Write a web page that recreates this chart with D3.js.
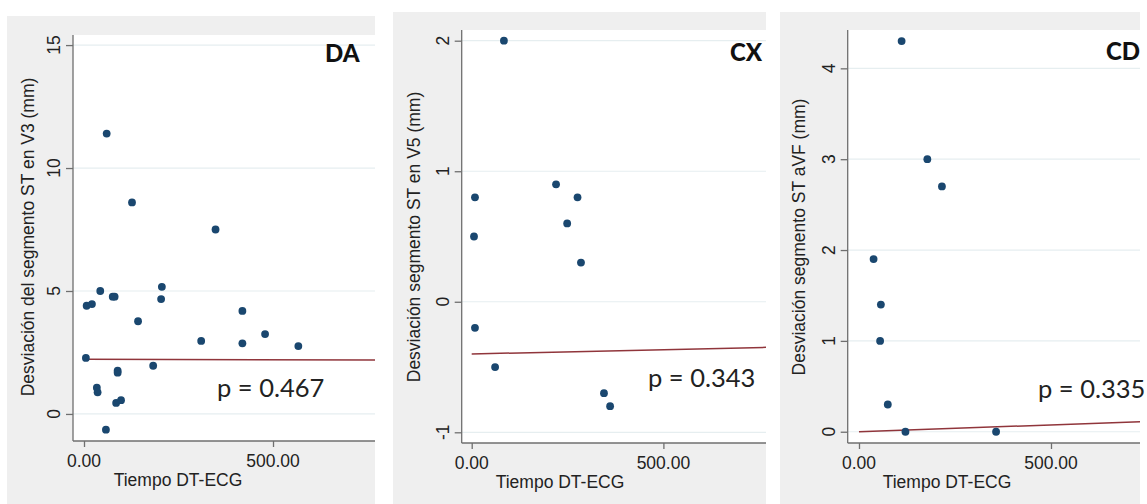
<!DOCTYPE html>
<html>
<head>
<meta charset="utf-8">
<script src="https://cdn.jsdelivr.net/npm/d3@7"></script>
<style>
  body { margin: 0; background: #fff; }
  svg { display: block; }
  .tick-label { font-family: "Liberation Sans", Arial, sans-serif; font-size: 17.5px; fill: #222; }
  .axis-title { font-family: "Liberation Sans", Arial, sans-serif; font-size: 17.5px; fill: #222; }
  .tag { font-family: Lato, "Open Sans", sans-serif; font-weight: 900; font-size: 24px; fill: #111; }
  .pval { font-family: Lato, "Open Sans", sans-serif; font-size: 25.5px; fill: #222; }
</style>
</head>
<body>
<script>
// data
var daX = [7, 21, 43, 60, 76, 81, 127, 143, 206, 204, 348, 419, 310, 419, 479, 567, 5, 183, 89, 89, 34, 36, 85, 98, 58];
var daY = [4.4, 4.47, 5.0, 11.4, 4.77, 4.77, 8.6, 3.77, 5.17, 4.67, 7.5, 4.19, 2.97, 2.87, 3.25, 2.76, 2.28, 1.96, 1.76, 1.68, 1.07, 0.88, 0.45, 0.56, -0.64];

var cxX = [84, 8.5, 6, 220, 276, 249, 285, 8.5, 61, 345, 361];
var cxY = [2.0, 0.8, 0.5, 0.9, 0.8, 0.6, 0.3, -0.2, -0.5, -0.7, -0.8];

var cdX = [111, 769, 178, 216, 38, 57, 55, 75, 121, 357];
var cdY = [4.3, 3.9, 3.0, 2.7, 1.9, 1.4, 1.0, 0.3, 0.0, 0.0];

// linear fit lines (start x, intercept, slope)
var fitStart = [5, 0, 0];
var fitIntercept = [2.224, -0.40, 0.0];
var fitSlope = [-0.000038, 0.000066, 0.00015];

var tags = ["DA", "CX", "CD"];
var pLabels = ["p = 0.467", "p = 0.343", "p = 0.335"];
var yTitles = ["Desviación del segmento ST en V3 (mm)", "Desviación segmento ST en V5 (mm)", "Desviación segmento ST aVF (mm)"];
var xTitle = "Tiempo DT-ECG";
var yTickSets = [[0, 5, 10, 15], [-1, 0, 1, 2], [0, 1, 2, 3, 4]];
var xTicks = [0, 500];

// layout of each panel (pixels)
var panels = [
    { bg: [7, 16, 375, 504], left: 73, right: 375, top: 35, bottom: 441, xDom: [-29.1, 769.8], yDom: [-1.10, 15.41],
      tagX: 325, tagY: 62, pX: 217, pY: 397, yTitleX: 34, xTitleX: 178 },
    { bg: [393, 12, 766, 504], left: 461.7, right: 766, top: 30, bottom: 443, xDom: [-26.1, 767.6], yDom: [-1.082, 2.082],
      tagX: 730, tagY: 61, pX: 648, pY: 387, yTitleX: 420, xTitleX: 560 },
    { bg: [780, 12, 1140, 504], left: 847.7, right: 1140, top: 30, bottom: 443, xDom: [-29.4, 731.8], yDom: [-0.124, 4.422],
      tagX: 1106, tagY: 60, pX: 1038, pY: 398, yTitleX: 805, xTitleX: 947 }
];

var seriesX = [daX, cxX, cdX];
var seriesY = [daY, cxY, cdY];

var svg = d3.select("body").append("svg")
    .attr("width", 1147)
    .attr("height", 504);

var fmt = d3.format(".2f");

panels.forEach(function (p, i) {
    var x = d3.scaleLinear().domain(p.xDom).range([p.left, p.right]);
    var y = d3.scaleLinear().domain(p.yDom).range([p.bottom, p.top]);

    var g = svg.append("g");

    // gray graph region
    g.append("rect")
        .attr("x", p.bg[0]).attr("y", p.bg[1])
        .attr("width", p.bg[2] - p.bg[0]).attr("height", p.bg[3] - p.bg[1])
        .attr("fill", "#efefef");

    // white plot region
    g.append("rect")
        .attr("x", p.left).attr("y", p.top)
        .attr("width", p.right - p.left).attr("height", p.bottom - p.top)
        .attr("fill", "#fff");

    g.append("clipPath").attr("id", "clip" + i)
        .append("rect")
        .attr("x", p.left).attr("y", p.top)
        .attr("width", p.right - p.left).attr("height", p.bottom - p.top);

    // grid lines
    g.selectAll(".grid")
        .data(yTickSets[i])
        .enter().append("line")
        .attr("x1", p.left).attr("x2", p.right)
        .attr("y1", function (d) { return y(d); })
        .attr("y2", function (d) { return y(d); })
        .attr("stroke", "#e6eef0")
        .attr("stroke-width", 1.2);

    // Add the Y Axis
    var yAxis = g.append("g")
        .attr("transform", "translate(" + p.left + ",0)")
        .call(d3.axisLeft(y).tickValues(yTickSets[i]).tickSize(7).tickSizeOuter(0).tickFormat(""));
    yAxis.select(".domain").attr("d", "M0," + p.top + "V" + p.bottom);

    // Add the X Axis
    var xAxis = g.append("g")
        .attr("transform", "translate(0," + p.bottom + ")")
        .call(d3.axisBottom(x).tickValues(xTicks).tickSize(6).tickSizeOuter(0).tickFormat(""));
    xAxis.select(".domain").attr("d", "M" + p.left + ",0H" + p.right);

    g.selectAll(".domain, .tick line").attr("stroke", "#6f6f6f").attr("stroke-width", 1.3);

    // rotated y tick labels
    g.selectAll(".ylab")
        .data(yTickSets[i])
        .enter().append("text")
        .attr("class", "tick-label")
        .attr("text-anchor", "middle")
        .attr("transform", function (d) { return "translate(" + (p.left - 13) + "," + y(d) + ") rotate(-90)"; })
        .text(function (d) { return d; });

    // x tick labels
    g.selectAll(".xlab")
        .data(xTicks)
        .enter().append("text")
        .attr("class", "tick-label")
        .attr("text-anchor", "middle")
        .attr("x", function (d) { return x(d); })
        .attr("y", p.bottom + 26)
        .text(function (d) { return fmt(d); });

    // axis titles
    g.append("text")
        .attr("class", "axis-title")
        .attr("text-anchor", "middle")
        .attr("transform", "translate(" + p.yTitleX + ",237) rotate(-90)")
        .text(yTitles[i]);

    g.append("text")
        .attr("class", "axis-title")
        .attr("text-anchor", "middle")
        .attr("x", p.xTitleX)
        .attr("y", p.bottom + 45)
        .text(xTitle);

    var plot = g.append("g").attr("clip-path", "url(#clip" + i + ")");

    // fitted line
    var x0 = fitStart[i], x1 = p.xDom[1] + 10;
    var fitLine = d3.line()
        .x(function (d) { return x(d); })
        .y(function (d) { return y(fitIntercept[i] + fitSlope[i] * d); });
    plot.append("path")
        .datum([x0, x1])
        .attr("d", fitLine)
        .attr("fill", "none")
        .attr("stroke", "#90353b")
        .attr("stroke-width", 1.5);

    // points
    plot.selectAll("circle")
        .data(d3.range(seriesX[i].length))
        .enter().append("circle")
        .attr("cx", function (k) { return x(seriesX[i][k]); })
        .attr("cy", function (k) { return y(seriesY[i][k]); })
        .attr("r", 3.9)
        .attr("fill", "#1a476f");

    // panel tag and p value
    g.append("text").attr("class", "tag")
        .attr("x", p.tagX).attr("y", p.tagY)
        .text(tags[i]);

    g.append("text").attr("class", "pval")
        .attr("x", p.pX).attr("y", p.pY)
        .text(pLabels[i]);
});
</script>
</body>
</html>
